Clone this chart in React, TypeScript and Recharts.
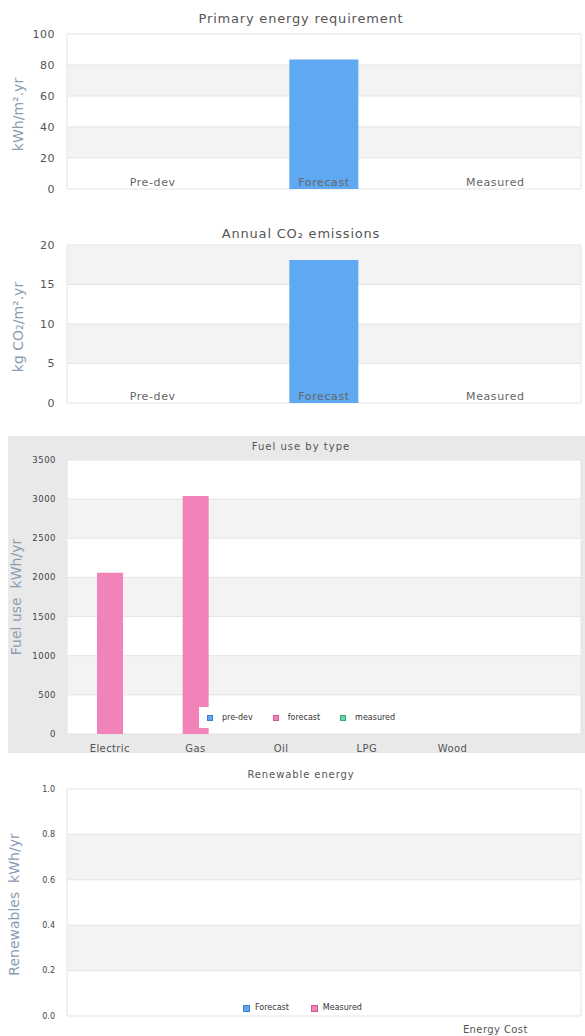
import { Bar, BarChart, CartesianGrid, Label, XAxis, YAxis } from 'recharts';

const FONT = '"DejaVu Sans", Verdana, sans-serif';
const AXIS_TITLE = '#8a9cb2';
const GRID = '#e4e4e4';
const STRIPE = '#f3f3f3';

// primary energy / co2
const stages = ['Pre-dev', 'Forecast', 'Measured'];
const primaryEnergy = [0, 83.5, 0];
const primaryTicks = [0, 20, 40, 60, 80, 100];
const co2Emissions = [0, 18.1, 0];
const co2Ticks = [0, 5, 10, 15, 20];

// fuel use by type
const fuelTypes = ['Electric', 'Gas', 'Oil', 'LPG', 'Wood', ''];
const fuelPreDev = [0, 0, 0, 0, 0, 0];
const fuelForecast = [2060, 3040, 0, 0, 0, 0];
const fuelMeasured = [0, 0, 0, 0, 0, 0];
const fuelTicks = [0, 500, 1000, 1500, 2000, 2500, 3000, 3500];
const fuelSeries = [
  { key: 'preDev', name: 'pre-dev', color: '#5fa6ee', border: '#3f82cc' },
  { key: 'forecast', name: 'forecast', color: '#f283b9', border: '#c85d92' },
  { key: 'measured', name: 'measured', color: '#5fd8a6', border: '#3aa97c' },
];

// renewables
const renewableCategories = ['', '', 'Energy Cost'];
const renewableForecast: (number | null)[] = [null, null, null];
const renewableMeasured: (number | null)[] = [null, null, null];
const renewableTicks = [0, 0.2, 0.4, 0.6, 0.8, 1];
const renewableSeries = [
  { key: 'forecast', name: 'Forecast', color: '#5fa6ee', border: '#3f82cc' },
  { key: 'measured', name: 'Measured', color: '#f283b9', border: '#c85d92' },
];

const primaryData = stages.map((name, i) => ({ name, value: primaryEnergy[i] }));
const co2Data = stages.map((name, i) => ({ name, value: co2Emissions[i] }));
const fuelData = fuelTypes.map((name, i) => ({
  name,
  preDev: fuelPreDev[i],
  forecast: fuelForecast[i],
  measured: fuelMeasured[i],
}));
const renewableData = renewableCategories.map((name, i) => ({
  name,
  forecast: renewableForecast[i],
  measured: renewableMeasured[i],
}));

const gridBorder = ({ offset }: any) => [offset.left, offset.left + offset.width];

const makeCatTick =
  (dy: number, size: number, ls: number, fill: string) =>
  ({ x, y, payload }: any) => (
    <text
      x={x}
      y={y + dy}
      textAnchor="middle"
      fontSize={size}
      letterSpacing={ls}
      fill={fill}
      fontFamily={FONT}
    >
      {payload.value}
    </text>
  );

const makeAxisTitle =
  (text: string, x: number, shift: number, size = 14) =>
  (props: any) => {
    const vb = props.viewBox;
    const cy = vb.y + vb.height / 2 + shift;
    return (
      <text
        x={x}
        y={cy}
        transform={`rotate(-90, ${x}, ${cy})`}
        textAnchor="middle"
        fontSize={size}
        fill={AXIS_TITLE}
        fontFamily={FONT}
        style={{ whiteSpace: 'pre' }}
      >
        {text}
      </text>
    );
  };

type StageChartProps = {
  data: { name: string; value: number }[];
  ticks: number[];
  yTitle: string;
  top: number;
  marginTop: number;
  stripes: string[];
};

const StageChart = ({ data, ticks, yTitle, top, marginTop, stripes }: StageChartProps) => (
  <div style={{ position: 'absolute', left: 0, top }}>
    <BarChart
      width={585}
      height={200}
      data={data}
      margin={{ top: marginTop, right: 4, bottom: 0, left: 0 }}
    >
      <CartesianGrid
        stroke={GRID}
        horizontalFill={stripes}
        verticalCoordinatesGenerator={gridBorder}
      />
      <YAxis
        width={67}
        domain={[ticks[0], ticks[ticks.length - 1]]}
        ticks={ticks}
        axisLine={false}
        tickLine={false}
        tickSize={0}
        tickMargin={12}
        tick={{ fontSize: 11, fill: '#555', fontFamily: FONT, letterSpacing: 0.5 }}
      >
        <Label content={makeAxisTitle(yTitle, 22.5, 3)} />
      </YAxis>
      <Bar dataKey="value" fill="#5fa8f2" barSize={69} isAnimationActive={false} />
      <XAxis
        dataKey="name"
        height={11}
        axisLine={false}
        tickLine={false}
        tickSize={0}
        tickMargin={0}
        interval={0}
        tick={makeCatTick(-3, 11, 0.6, '#666')}
      />
    </BarChart>
  </div>
);

const legendSquare = (color: string, border: string, size: number) => ({
  display: 'inline-block',
  width: size,
  height: size,
  boxSizing: 'border-box' as const,
  background: color,
  border: `1px solid ${border}`,
});

export default function App() {
  return (
    <div style={{ position: 'absolute', left: 0, top: 0, width: 585, height: 1036, background: '#fff' }}>
      <StageChart
        data={primaryData}
        ticks={primaryTicks}
        yTitle="kWh/m².yr"
        top={0}
        marginTop={34}
        stripes={['#ffffff', STRIPE]}
      />
      <StageChart
        data={co2Data}
        ticks={co2Ticks}
        yTitle="kg CO₂/m².yr"
        top={214}
        marginTop={31}
        stripes={[STRIPE, '#ffffff']}
      />

      {/* fuel use */}
      <div style={{ position: 'absolute', left: 8, top: 436, width: 577, height: 317, background: '#e9e9e9' }}>
        <BarChart
          width={577}
          height={317}
          data={fuelData}
          barGap={0}
          margin={{ top: 24, right: 4, bottom: 0, left: 0 }}
        >
          <CartesianGrid
            stroke={GRID}
            fill="#ffffff"
            horizontalFill={['#ffffff', STRIPE]}
            verticalCoordinatesGenerator={gridBorder}
          />
          <YAxis
            width={59}
            domain={[0, 3500]}
            ticks={fuelTicks}
            axisLine={false}
            tickLine={false}
            tickSize={0}
            tickMargin={11}
            tick={{ fontSize: 8.5, fill: '#444', fontFamily: FONT, letterSpacing: 0.5 }}
          >
            <Label content={makeAxisTitle('Fuel use  kWh/yr', 12.5, 0, 14)} />
          </YAxis>
          {fuelSeries.map((s) => (
            <Bar key={s.key} dataKey={s.key} name={s.name} fill={s.color} barSize={26} isAnimationActive={false} />
          ))}
          <XAxis
            dataKey="name"
            height={19}
            axisLine={false}
            tickLine={false}
            tickSize={0}
            tickMargin={0}
            interval={0}
            tick={makeCatTick(18, 10, 0.4, '#555')}
          />
        </BarChart>
        <div
          style={{
            position: 'absolute',
            left: 191,
            top: 271,
            height: 21,
            padding: '0 8px',
            background: '#fff',
            display: 'flex',
            alignItems: 'center',
            fontFamily: FONT,
            fontSize: 8,
            color: '#333',
            lineHeight: 1,
          }}
        >
          {fuelSeries.map((s, i) => (
            <span key={s.key} style={{ display: 'flex', alignItems: 'center', marginRight: i < fuelSeries.length - 1 ? 20 : 0 }}>
              <span style={{ ...legendSquare(s.color, s.border, 6), marginRight: 9 }} />
              {s.name}
            </span>
          ))}
        </div>
      </div>

      {/* renewables */}
      <div style={{ position: 'absolute', left: 0, top: 760 }}>
        <BarChart
          width={585}
          height={276}
          data={renewableData}
          margin={{ top: 29, right: 4, bottom: 0, left: 0 }}
        >
          <CartesianGrid
            stroke={GRID}
            horizontalFill={['#ffffff', STRIPE]}
            verticalCoordinatesGenerator={gridBorder}
          />
          <YAxis
            width={67}
            type="number"
            domain={[0, 1]}
            allowDataOverflow
            ticks={renewableTicks}
            axisLine={false}
            tickLine={false}
            tickSize={0}
            tickMargin={12}
            tickFormatter={(v: number) => v.toFixed(1)}
            tick={{ fontSize: 8, fill: '#444', fontFamily: FONT }}
          >
            <Label content={makeAxisTitle('Renewables  kWh/yr', 18.5, 2)} />
          </YAxis>
          {renewableSeries.map((s) => (
            <Bar key={s.key} dataKey={s.key} name={s.name} fill={s.color} isAnimationActive={false} />
          ))}
          <XAxis
            dataKey="name"
            height={20}
            axisLine={false}
            tickLine={false}
            tickSize={0}
            tickMargin={0}
            interval={0}
            tick={makeCatTick(17, 10, 0.4, '#555')}
          />
        </BarChart>
        <div
          style={{
            position: 'absolute',
            left: 243,
            top: 242,
            height: 12,
            display: 'flex',
            alignItems: 'center',
            fontFamily: FONT,
            fontSize: 8,
            color: '#333',
            lineHeight: 1,
          }}
        >
          {renewableSeries.map((s, i) => (
            <span key={s.key} style={{ display: 'flex', alignItems: 'center', marginRight: i < renewableSeries.length - 1 ? 22 : 0 }}>
              <span style={{ ...legendSquare(s.color, s.border, 7), marginRight: 5 }} />
              {s.name}
            </span>
          ))}
        </div>
      </div>

      {/* chart titles */}
      <svg
        width={585}
        height={1036}
        style={{ position: 'absolute', left: 0, top: 0, pointerEvents: 'none' }}
      >
        <g fontFamily={FONT} fill="#555" textAnchor="middle">
          <text x={301} y={22.5} fontSize={13} letterSpacing={0.8}>Primary energy requirement</text>
          <text x={301} y={238} fontSize={13} letterSpacing={0.8}>Annual CO₂ emissions</text>
          <text x={301} y={449.5} fontSize={10} letterSpacing={1}>Fuel use by type</text>
          <text x={301} y={777.5} fontSize={10} letterSpacing={0.9}>Renewable energy</text>
        </g>
      </svg>
    </div>
  );
}
